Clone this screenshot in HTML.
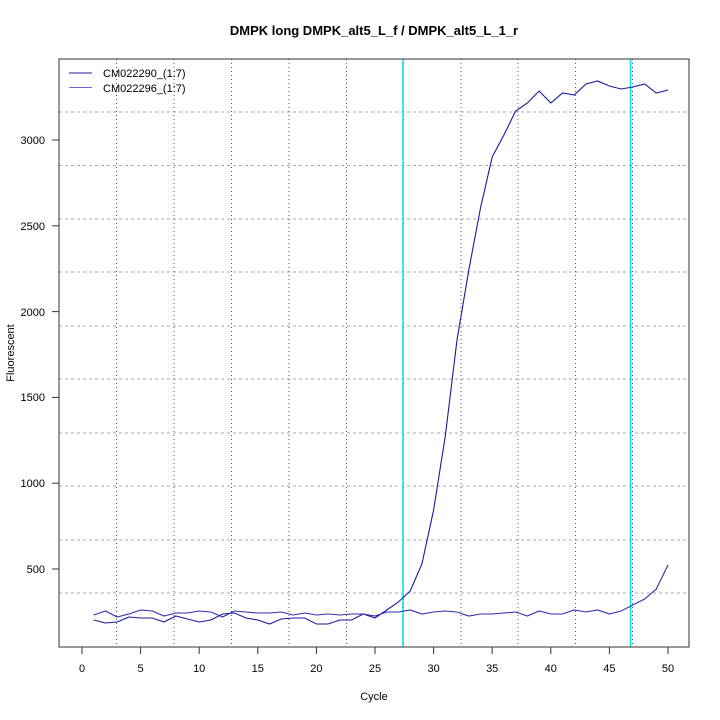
<!DOCTYPE html>
<html><head><meta charset="utf-8"><style>body{margin:0;background:#fff}svg{display:block}text{font-family:"Liberation Sans",sans-serif}</style></head><body>
<svg width="720" height="720" viewBox="0 0 720 720" xmlns="http://www.w3.org/2000/svg">
<rect width="720" height="720" fill="#fff"/>
<g stroke="#aaa" stroke-dasharray="3,3" stroke-width="1">
<line x1="59" x2="689" y1="593" y2="593"/><line x1="59" x2="689" y1="540" y2="540"/><line x1="59" x2="689" y1="486" y2="486"/><line x1="59" x2="689" y1="433" y2="433"/><line x1="59" x2="689" y1="379" y2="379"/><line x1="59" x2="689" y1="326" y2="326"/><line x1="59" x2="689" y1="272" y2="272"/><line x1="59" x2="689" y1="219" y2="219"/><line x1="59" x2="689" y1="165.5" y2="165.5"/><line x1="59" x2="689" y1="112" y2="112"/>
</g>
<g stroke="#555" stroke-dasharray="1,3" stroke-width="1">
<line y1="59" y2="647" x1="116.5" x2="116.5"/><line y1="59" y2="647" x1="174" x2="174"/><line y1="59" y2="647" x1="231.5" x2="231.5"/><line y1="59" y2="647" x1="289" x2="289"/><line y1="59" y2="647" x1="346.5" x2="346.5"/><line y1="59" y2="647" x1="403.5" x2="403.5"/><line y1="59" y2="647" x1="461" x2="461"/><line y1="59" y2="647" x1="518" x2="518"/><line y1="59" y2="647" x1="575.5" x2="575.5"/><line y1="59" y2="647" x1="632.5" x2="632.5"/>
</g>
<line x1="403" x2="403" y1="59" y2="647" stroke="#00e5ee" stroke-width="1.5"/>
<line x1="630.5" x2="630.5" y1="59" y2="647" stroke="#00e5ee" stroke-width="1.5"/>
<rect x="59" y="59" width="630" height="588" fill="none" stroke="#333" stroke-width="1"/>
<polyline fill="none" stroke="#1a1aa0" stroke-width="1.1" points="93.7,620 105.4,623 117.2,622 128.9,617 140.6,618 152.3,618 164,622 175.8,616 187.5,619 199.2,622 210.9,620 222.6,614 234.4,613 246.1,618 257.8,620 269.5,624 281.2,619 293,618 304.7,618 316.4,624 328.1,624 339.8,620 351.6,620 363.3,614 375,618 386.7,610 398.4,602 410.2,591 421.9,564 433.6,510 445.3,436 457,340 468.8,270 480.5,208 492.2,157 503.9,135 515.6,111 527.4,103 539.1,91 550.8,103 562.5,93 574.2,95 586,84 597.7,81 609.4,86 621.1,89 632.8,87 644.6,84 656.3,93 668,90"/>
<polyline fill="none" stroke="#3030b0" stroke-width="1.1" points="93.7,615 105.4,611 117.2,617 128.9,614 140.6,610 152.3,611 164,616 175.8,613 187.5,613 199.2,611 210.9,612 222.6,617 234.4,611 246.1,612 257.8,613 269.5,613 281.2,612 293,615 304.7,613 316.4,615 328.1,614 339.8,615 351.6,614 363.3,614 375,616 386.7,612 398.4,612 410.2,610 421.9,614 433.6,612 445.3,611 457,612 468.8,616 480.5,614 492.2,614 503.9,613 515.6,612 527.4,616 539.1,611 550.8,614 562.5,614 574.2,610 586,612 597.7,610 609.4,614 621.1,611 632.8,605 644.6,599 656.3,589 668,565"/>
<g stroke="#333" stroke-width="1">
<line x1="82" x2="668" y1="647" y2="647"/>
<line x1="82" x2="82" y1="647" y2="654"/><line x1="140.6" x2="140.6" y1="647" y2="654"/><line x1="199.2" x2="199.2" y1="647" y2="654"/><line x1="257.8" x2="257.8" y1="647" y2="654"/><line x1="316.4" x2="316.4" y1="647" y2="654"/><line x1="375" x2="375" y1="647" y2="654"/><line x1="433.6" x2="433.6" y1="647" y2="654"/><line x1="492.2" x2="492.2" y1="647" y2="654"/><line x1="550.8" x2="550.8" y1="647" y2="654"/><line x1="609.4" x2="609.4" y1="647" y2="654"/><line x1="668" x2="668" y1="647" y2="654"/>
<line x1="52" x2="59" y1="569" y2="569"/><line x1="52" x2="59" y1="483.2" y2="483.2"/><line x1="52" x2="59" y1="397.4" y2="397.4"/><line x1="52" x2="59" y1="311.6" y2="311.6"/><line x1="52" x2="59" y1="225.8" y2="225.8"/><line x1="52" x2="59" y1="140" y2="140"/>
</g>
<g font-size="11" fill="#000" text-anchor="middle">
<text x="82" y="672">0</text><text x="140.6" y="672">5</text><text x="199.2" y="672">10</text><text x="257.8" y="672">15</text><text x="316.4" y="672">20</text><text x="375" y="672">25</text><text x="433.6" y="672">30</text><text x="492.2" y="672">35</text><text x="550.8" y="672">40</text><text x="609.4" y="672">45</text><text x="668" y="672">50</text>
</g>
<g font-size="11" fill="#000" text-anchor="end">
<text x="45" y="573">500</text><text x="45" y="487">1000</text><text x="45" y="401">1500</text><text x="45" y="316">2000</text><text x="45" y="230">2500</text><text x="45" y="144">3000</text>
</g>
<text x="374" y="700" font-size="11" text-anchor="middle">Cycle</text>
<text transform="translate(14,353) rotate(-90)" font-size="11" text-anchor="middle">Fluorescent</text>
<text x="374" y="35" font-size="13" font-weight="bold" text-anchor="middle">DMPK long DMPK_alt5_L_f / DMPK_alt5_L_1_r</text>
<line x1="69" x2="92" y1="73" y2="73" stroke="#1a1aa0"/>
<line x1="69" x2="92" y1="87.5" y2="87.5" stroke="#6a6ad0"/>
<text x="103" y="77" font-size="11">CM022290_(1:7)</text>
<text x="103" y="92" font-size="11">CM022296_(1:7)</text>
</svg>
</body></html>
